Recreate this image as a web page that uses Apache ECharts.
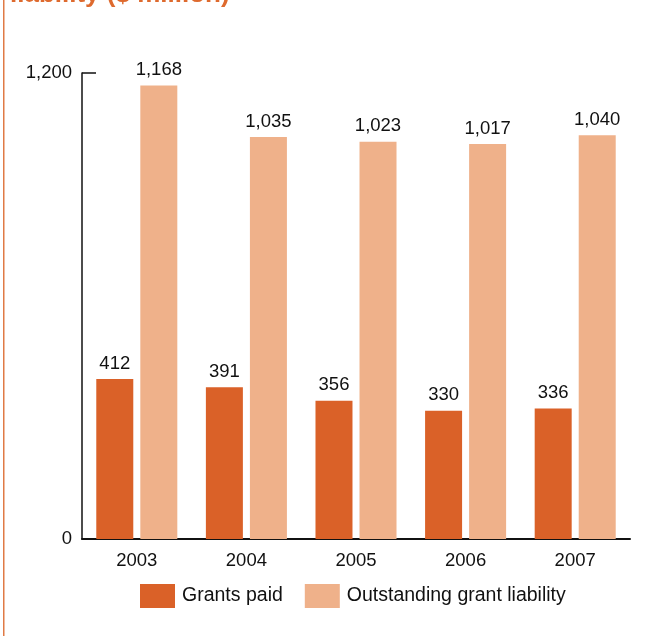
<!DOCTYPE html>
<html><head><meta charset="utf-8">
<script src="https://cdn.jsdelivr.net/npm/echarts@6/dist/echarts.min.js"></script>
<style>html,body{margin:0;padding:0;background:#fff}#c{width:651px;height:636px}</style>
</head><body><div id="c"></div>
<script>
const categories = ['2003','2004','2005','2006','2007'];
const grantsPaid = [412, 391, 356, 330, 336];
const outstanding = [1168, 1035, 1023, 1017, 1040];
const yTicks = [0, 1200];
const seriesNames = ['Grants paid', 'Outstanding grant liability'];
const titleText = 'liability ($ million)';

const fmt = v => v.toLocaleString('en-US');
const font = '"Liberation Sans", Arial, Helvetica, sans-serif';
const chart = echarts.init(document.getElementById('c'), null, {renderer:'canvas'});
const labelCfg = {show:true, position:'top', distance:6, color:'#111', fontSize:18.5, fontFamily:font, formatter:p=>fmt(p.value)};
chart.setOption({
  animation:false,
  textStyle:{fontFamily:font},
  graphic:[
    {type:'rect', shape:{x:3, y:0, width:1.5, height:636}, style:{fill:'#E07A45'}},
    {type:'text', x:10, y:-18, style:{text:titleText, fill:'#DE6A2E', font:'bold 26px ' + font}}
  ],
  grid:{left:82, right:21, top:73, bottom:97, containLabel:false},
  legend:{
    top:584, left:140, padding:0, itemWidth:35, itemHeight:24, itemGap:22,
    textStyle:{fontSize:19.5, color:'#111', fontFamily:font, padding:[0,0,0,2]},
    data:seriesNames, icon:'rect'
  },
  xAxis:{
    type:'category', data:categories,
    axisLine:{lineStyle:{color:'#111', width:2}},
    axisTick:{show:false},
    axisLabel:{color:'#111', fontSize:18.5, margin:12, fontFamily:font}
  },
  yAxis:{
    type:'value', min:yTicks[0], max:yTicks[yTicks.length-1], interval:yTicks[1]-yTicks[0],
    axisLine:{show:true, lineStyle:{color:'#111', width:1.5}},
    axisTick:{show:true, inside:true, length:14, lineStyle:{color:'#111', width:1.5}},
    splitLine:{show:false},
    axisLabel:{color:'#111', fontSize:18.5, margin:10, fontFamily:font, formatter:v=>fmt(v)}
  },
  series:[
    {name:seriesNames[0], type:'bar', data:grantsPaid, barWidth:37, barGap:'19%', itemStyle:{color:'#DA6128'}, label:labelCfg},
    {name:seriesNames[1], type:'bar', data:outstanding, barWidth:37, itemStyle:{color:'#EFB18A'}, label:labelCfg}
  ]
});
</script></body></html>
